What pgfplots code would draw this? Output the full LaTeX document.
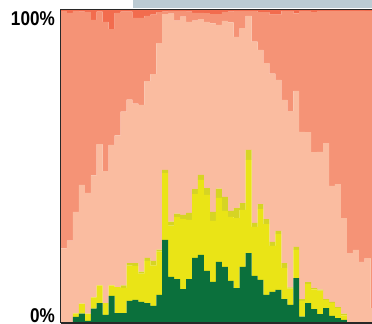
\documentclass[border=0pt]{standalone}
\usepackage{fontspec}
\setmainfont{Liberation Sans}
\usepackage{pgfplots}
\pgfplotsset{compat=1.18}
\usepackage{pgfplotstable}

\definecolor{cgreen}{RGB}{11,112,60}
\definecolor{cyellow}{RGB}{234,228,22}
\definecolor{colive}{RGB}{214,212,36}
\definecolor{cpeach}{RGB}{250,188,160}
\definecolor{csalmon}{RGB}{245,147,118}
\definecolor{cred}{RGB}{242,108,78}
\definecolor{topgray}{RGB}{188,203,211}
\definecolor{lines}{RGB}{40,40,40}

% shares per bar, bottom to top (percent)
\pgfplotstableread{
x  G    Y    O   P    S    R
1  0    0    0   23.7 75.9 0.4
2  0    0    0   26.2 72.9 0.9
3  1.8  1.1  0   32.5 64.3 0.3
4  2.8  3.2  0   38.0 55.5 0.5
5  0.5  2.3  0   38.7 57.9 0.6
6  4.4  3.6  0   39.1 49.7 3.2
7  6.2  5.7  0   45.2 42.4 0.5
8  2.4  3.8  0   42.2 47.8 3.8
9  8.5  3.4  0   44.9 37.1 6.1
10 3.0  8.3  0   48.6 39.2 0.9
11 3.0  8.1  0.8 55.6 32.0 0.5
12 6.9  11.3 0.8 52.3 28.2 0.5
13 7.2  10.9 0.9 51.0 27.5 2.5
14 6.6  9.0  0.7 53.3 27.9 2.5
15 6.2  13.5 1.0 56.5 20.9 1.9
16 5.3  12.9 1.5 59.8 19.0 1.5
17 8.8  13.9 0.6 66.1 9.9  0.7
18 26.4 21.4 1.0 49.9 0.8  0.5
19 14.6 16.4 1.3 66.5 0.9  0.3
20 13.9 19.8 1.1 61.8 3.1  0.3
21 10.7 22.4 1.3 63.5 1.8  0.3
22 13.9 18.9 2.3 61.1 3.3  0.5
23 20.7 20.4 1.6 53.9 2.5  0.9
24 21.6 24.0 1.6 49.9 2.0  0.9
25 16.5 24.3 2.2 53.2 2.8  1.0
26 13.0 19.5 2.9 60.3 3.0  1.3
27 19.4 20.5 2.9 52.4 3.5  1.3
28 17.8 17.9 4.5 56.3 2.9  0.6
29 13.3 20.5 1.9 60.3 3.5  0.5
30 11.0 22.4 3.2 54.8 8.3  0.3
31 17.8 18.2 2.2 56.0 5.5  0.3
32 22.2 29.8 3.2 42.9 1.6  0.3
33 14.9 15.7 1.3 58.0 9.8  0.3
34 13.6 22.7 1.6 49.3 12.1 0.7
35 8.8  22.7 1.6 49.9 16.3 0.7
36 9.8  14.7 1.3 53.8 18.9 1.5
37 10.4 17.9 1.0 48.3 20.9 1.5
38 7.5  9.9  1.6 52.2 28.5 0.3
39 5.6  5.2  0.4 56.4 32.1 0.3
40 14.2 9.0  1.0 49.9 24.8 1.1
41 1.9  5.0  0.6 53.5 38.7 0.3
42 6.2  6.1  0.6 48.0 38.8 0.3
43 4.3  6.3  0.4 43.5 44.8 0.7
44 2.7  7.5  0.3 44.1 45.1 0.3
45 4.6  2.6  0.3 49.9 42.3 0.3
46 2.1  4.2  0.3 37.1 56.0 0.3
47 1.4  3.2  0.3 39.4 55.4 0.3
48 0.8  1.5  0.5 30.6 66.3 0.3
49 0    0    0   22.2 77.5 0.3
50 0    0    0   23.2 76.5 0.3
51 0    0    0   19.4 80.3 0.3
52 0    0    0   20.6 79.0 0.4
53 0    0    0   4.6  95.0 0.4
}\shares

\begin{document}
\begin{tikzpicture}
\useasboundingbox (0,0) rectangle (372bp,324bp);
\fill[topgray] (133bp,316bp) rectangle (372bp,324bp);
\begin{axis}[
    at={(61bp,1.5bp)}, anchor=south west,
    scale only axis,
    width=311bp, height=312.5bp,
    xmin=0.5, xmax=52.72,
    ymin=0, ymax=100,
    ybar stacked, bar width=1,
    axis line style={draw=none},
    ticks=none,
]
\addplot[fill=cgreen, draw=none] table[x=x, y=G] {\shares};
\addplot[fill=cyellow, draw=none] table[x=x, y=Y] {\shares};
\addplot[fill=colive, draw=none] table[x=x, y=O] {\shares};
\addplot[fill=cpeach, draw=none] table[x=x, y=P] {\shares};
\addplot[fill=csalmon, draw=none] table[x=x, y=S] {\shares};
\addplot[fill=cred, draw=none] table[x=x, y=R] {\shares};
\end{axis}
\draw[lines, line width=1.2bp] (61bp,1bp) -- (372bp,1bp);
\draw[lines, line width=1.2bp] (60.6bp,1bp) -- (60.6bp,314.5bp) -- (372bp,314.5bp);
\node[anchor=base east, inner sep=0pt, font=\bfseries\fontsize{20}{20}\selectfont]
    at (55bp,298bp) {\scalebox{0.86}[1]{100\%}};
\node[anchor=base east, inner sep=0pt, font=\bfseries\fontsize{20}{20}\selectfont]
    at (55bp,1.5bp) {\scalebox{0.86}[1]{0\%}};
\end{tikzpicture}
\end{document}
